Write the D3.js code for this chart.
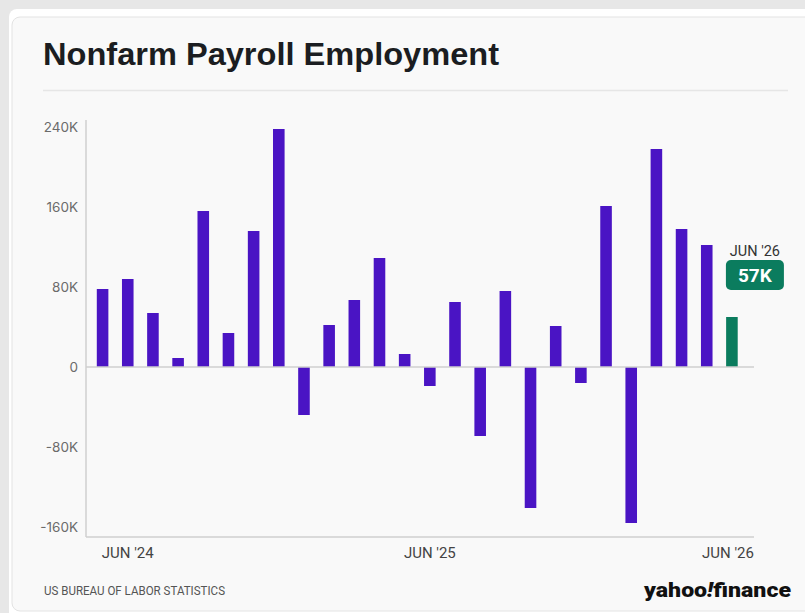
<!DOCTYPE html>
<html>
<head>
<meta charset="utf-8">
<script src="https://cdn.jsdelivr.net/npm/d3@7"></script>
<style>
  html, body { margin: 0; padding: 0; background: #e7e7e7; }
  svg { display: block; }
</style>
</head>
<body>
<svg id="chart" width="805" height="613"></svg>
<script>
(function() {
  var months, values, tickMonths, tickLabels, yTicks, latestLabel, latestValueText;
  var svg, x, y, plotLeft, plotRight, barColor, lastColor;

  // May 2024 .. Jun 2026, thousands of jobs
  months = ['May 24', 'Jun 24', 'Jul 24', 'Aug 24', 'Sep 24', 'Oct 24', 'Nov 24', 'Dec 24',
            'Jan 25', 'Feb 25', 'Mar 25', 'Apr 25', 'May 25', 'Jun 25', 'Jul 25', 'Aug 25',
            'Sep 25', 'Oct 25', 'Nov 25', 'Dec 25', 'Jan 26', 'Feb 26', 'Mar 26', 'Apr 26',
            'May 26', 'Jun 26'];
  values = [78, 88, 54, 9, 156, 34, 136, 238, -48, 42, 67, 109, 13, -19, 65, -69,
            76, -141, 41, -16, 161, -156, 218, 138, 122, 50];
  tickMonths = ['Jun 24', 'Jun 25', 'Jun 26'];
  tickLabels = ["JUN '24", "JUN '25", "JUN '26"];
  yTicks = [-160, -80, 0, 80, 160, 240];
  latestLabel = "JUN '26";
  latestValueText = '57K';

  barColor = '#4a14c4';
  lastColor = '#0b7c5e';
  plotLeft = 86;
  plotRight = 754;

  svg = d3.select('#chart');

  // page + card
  svg.append('rect').attr('width', 805).attr('height', 613).attr('fill', '#e7e7e7');
  svg.append('rect').attr('x', 9).attr('y', 9).attr('width', 810).attr('height', 620)
    .attr('rx', 8).attr('fill', '#ffffff');
  svg.append('rect').attr('x', 12).attr('y', 17).attr('width', 810).attr('height', 594)
    .attr('rx', 8).attr('fill', '#f9f9f9').attr('stroke', '#e3e3e3');

  svg.append('text').attr('x', 43).attr('y', 65)
    .attr('font-family', 'Liberation Sans, Arial, sans-serif')
    .attr('font-weight', 700).attr('font-size', 31).attr('fill', '#1b1d21')
    .attr('textLength', 456).attr('lengthAdjust', 'spacingAndGlyphs')
    .text('Nonfarm Payroll Employment');

  svg.append('line').attr('x1', 43).attr('x2', 788).attr('y1', 90.5).attr('y2', 90.5)
    .attr('stroke', '#e6e6e6').attr('stroke-width', 1.5);

  x = d3.scaleBand().domain(months).range([90, 744.5]).paddingInner(0.54).paddingOuter(0.27);
  y = d3.scaleLinear().domain([-170, 247]).range([537, 120]);

  // y labels
  svg.append('g').selectAll('text').data(yTicks).enter().append('text')
    .attr('x', 78).attr('y', function(d) { return y(d); })
    .attr('dy', '0.36em').attr('text-anchor', 'end')
    .attr('font-family', 'Inter, sans-serif').attr('font-size', 13.5).attr('fill', '#6b6b6b')
    .text(function(d) { return d === 0 ? '0' : d + 'K'; });

  // axis lines
  svg.append('line').attr('x1', plotLeft).attr('x2', plotLeft)
    .attr('y1', y.range()[1]).attr('y2', y.range()[0])
    .attr('stroke', '#cfcfcf').attr('stroke-width', 1.5);
  svg.append('line').attr('x1', plotLeft).attr('x2', plotRight)
    .attr('y1', y.range()[0]).attr('y2', y.range()[0])
    .attr('stroke', '#cfcfcf').attr('stroke-width', 1.5);

  // bars
  svg.append('g').selectAll('rect').data(values).enter().append('rect')
    .attr('x', function(d, i) { return x(months[i]); })
    .attr('width', x.bandwidth())
    .attr('y', function(d) { return y(Math.max(0, d)); })
    .attr('height', function(d) { return Math.abs(y(d) - y(0)); })
    .attr('fill', function(d, i) { return i === values.length - 1 ? lastColor : barColor; });

  // zero line
  svg.append('line').attr('x1', plotLeft).attr('x2', plotRight)
    .attr('y1', y(0)).attr('y2', y(0))
    .attr('stroke', '#cfcfcf').attr('stroke-width', 1.5);

  // x labels
  svg.append('g').selectAll('text').data(tickMonths).enter().append('text')
    .attr('x', function(d, i) {
      return i === tickMonths.length - 1 ? plotRight : x(d) + x.bandwidth() / 2;
    })
    .attr('y', 558)
    .attr('text-anchor', function(d, i) { return i === tickMonths.length - 1 ? 'end' : 'middle'; })
    .attr('font-family', 'Roboto, sans-serif').attr('font-size', 15).attr('fill', '#444')
    .text(function(d, i) { return tickLabels[i]; });

  // latest value callout
  var lx = x(months[months.length - 1]) + x.bandwidth() / 2 + 23;
  svg.append('text').attr('x', lx).attr('y', 255.5).attr('text-anchor', 'middle')
    .attr('font-family', 'Roboto, sans-serif').attr('font-size', 14.5).attr('fill', '#333')
    .text(latestLabel);
  svg.append('rect').attr('x', lx - 29).attr('y', 260).attr('width', 58).attr('height', 30)
    .attr('rx', 5).attr('fill', lastColor);
  svg.append('text').attr('x', lx).attr('y', 282).attr('text-anchor', 'middle')
    .attr('font-family', 'Roboto, sans-serif').attr('font-weight', 700)
    .attr('font-size', 19).attr('fill', '#ffffff')
    .text(latestValueText);

  // footer
  svg.append('text').attr('x', 44).attr('y', 594.5)
    .attr('font-family', 'Roboto, sans-serif').attr('font-size', 12.5).attr('fill', '#555')
    .attr('textLength', 181).attr('lengthAdjust', 'spacingAndGlyphs')
    .text('US BUREAU OF LABOR STATISTICS');

  var logo = svg.append('text').attr('x', 644).attr('y', 597)
    .attr('font-family', 'Roboto, sans-serif').attr('font-weight', 900)
    .attr('font-size', 21).attr('fill', '#111')
    .attr('textLength', 147).attr('lengthAdjust', 'spacingAndGlyphs');
  logo.append('tspan').text('yahoo');
  logo.append('tspan').attr('font-style', 'italic').text('!');
  logo.append('tspan').text('finance');
}).call(this);
</script>
</body>
</html>
